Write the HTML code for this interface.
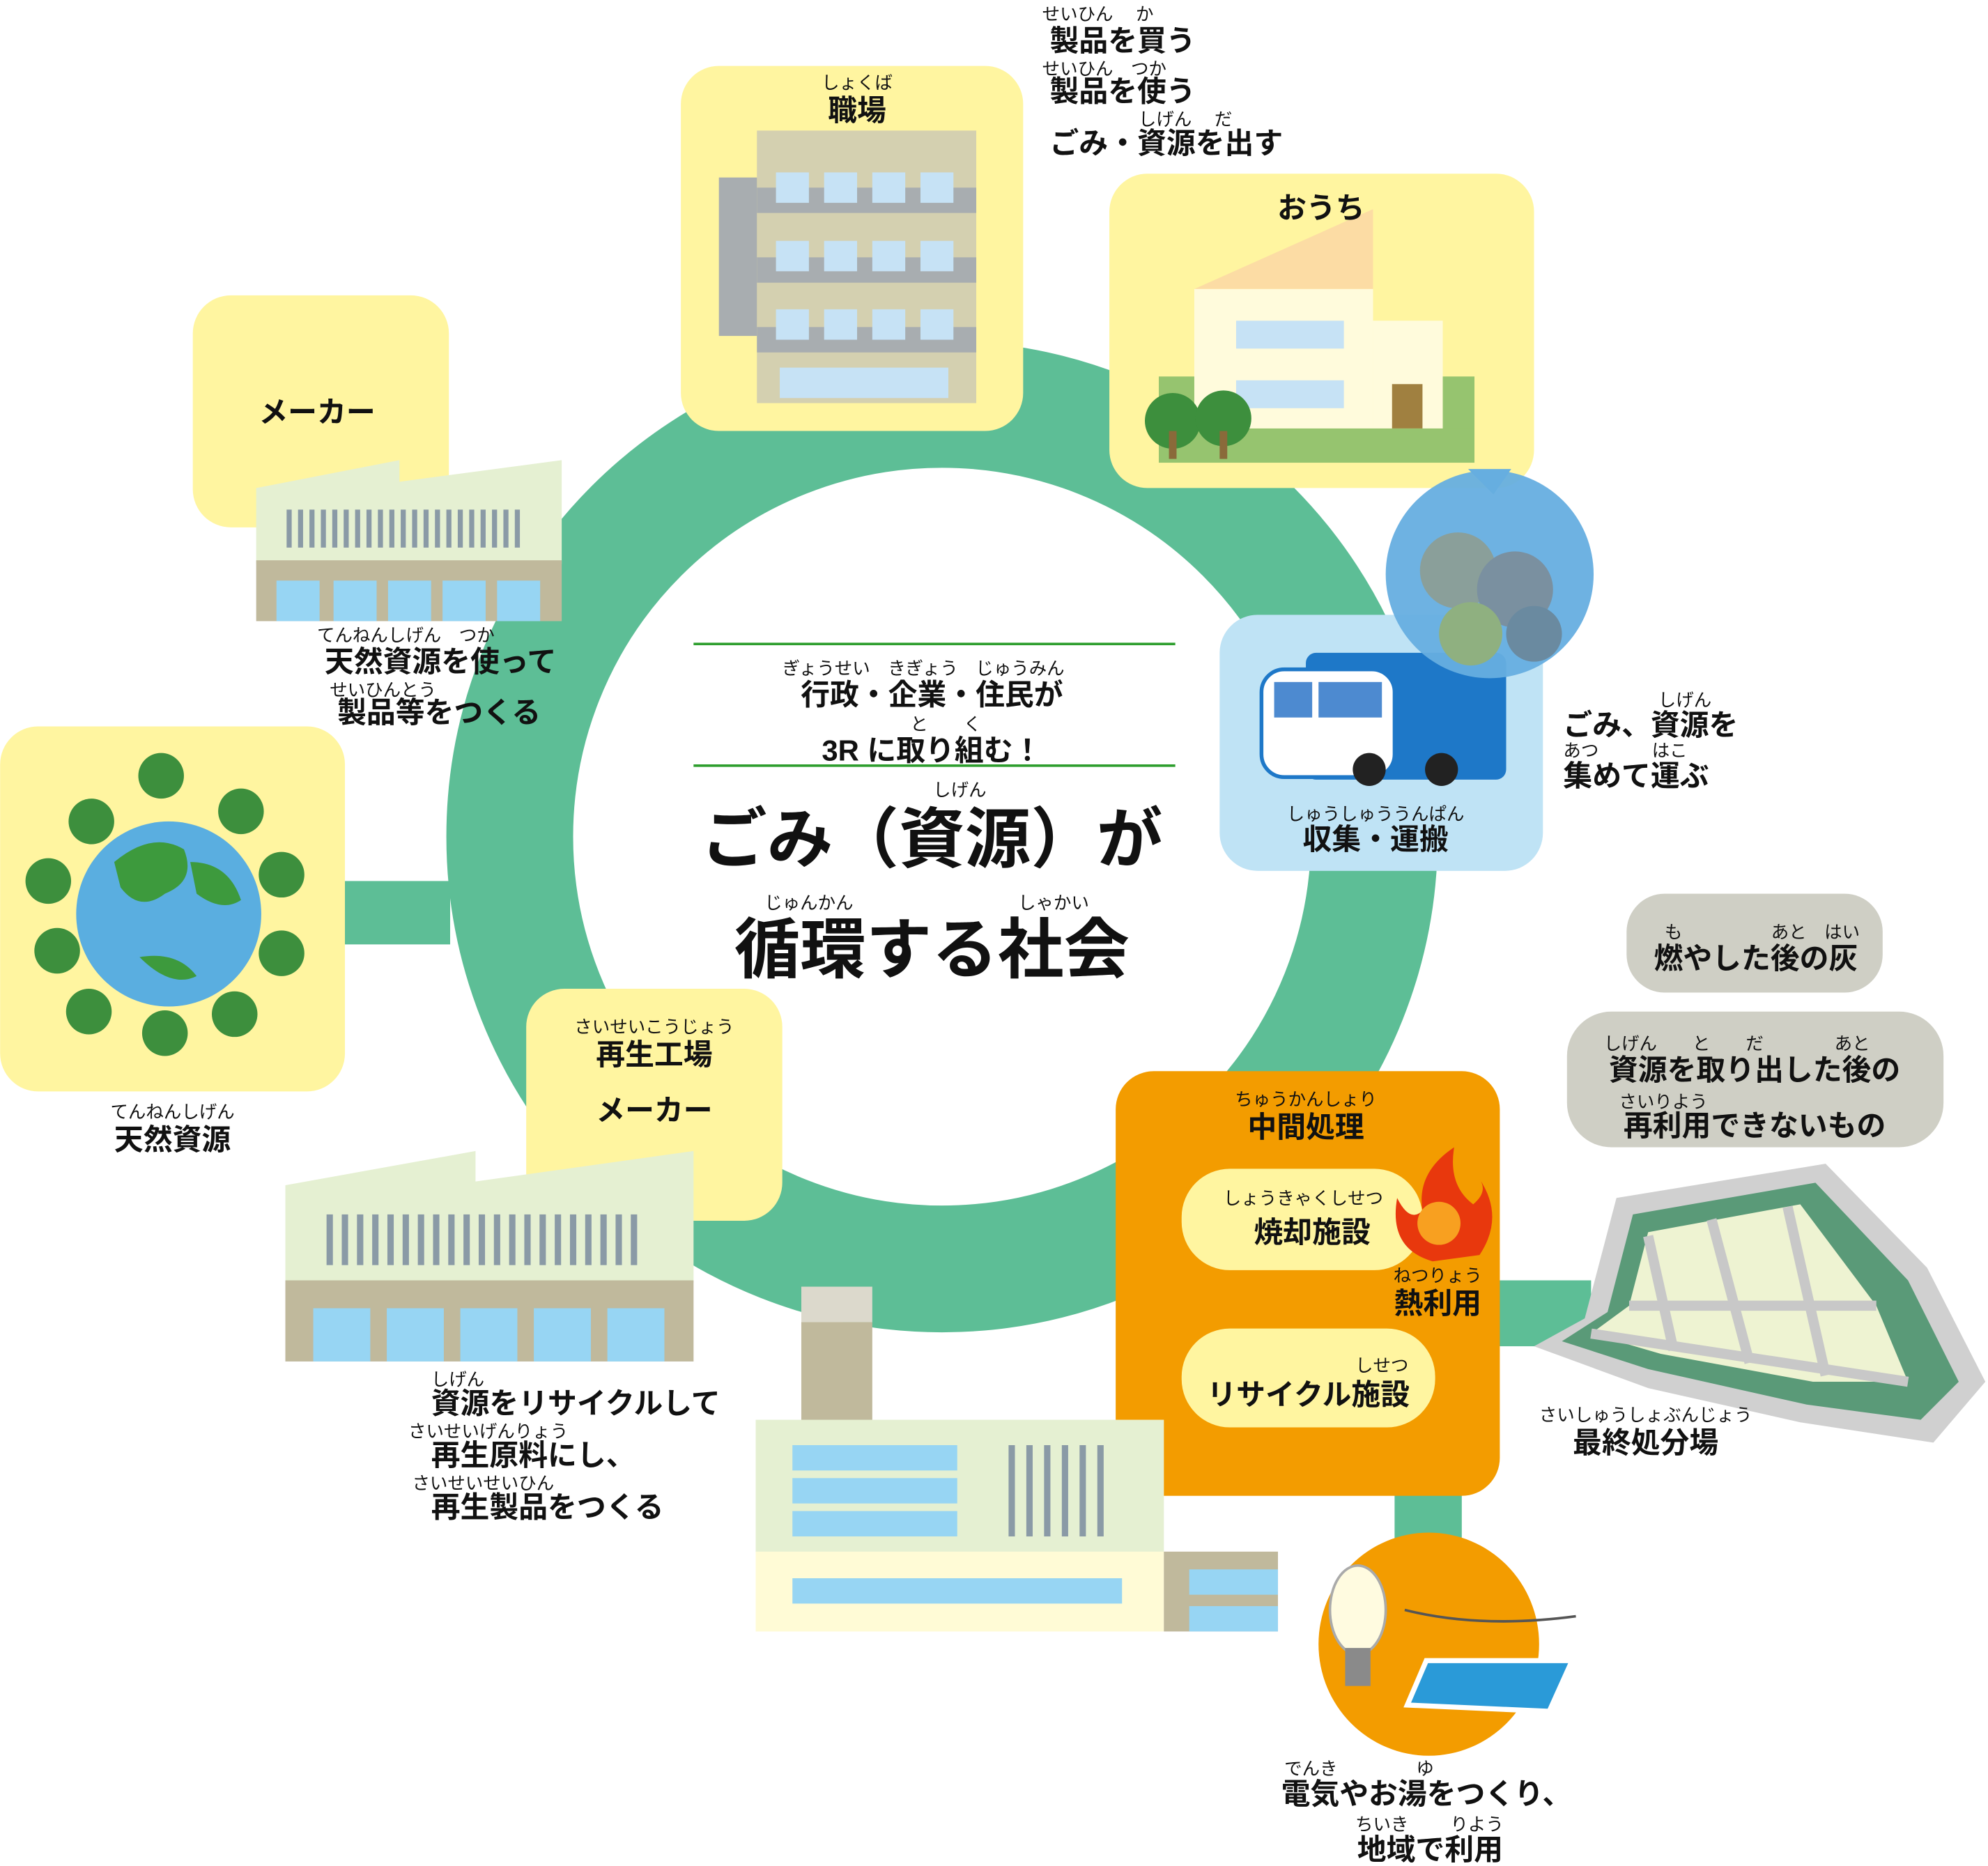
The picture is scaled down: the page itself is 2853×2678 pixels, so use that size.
<!DOCTYPE html>
<html><head><meta charset="utf-8"><style>
html,body{margin:0;padding:0;background:#fff}
svg{display:block}
text{font-family:"Liberation Sans","Noto Sans CJK JP",sans-serif;fill:#111}
.b{font-weight:bold;font-size:23px}
.r{font-size:14px}
</style></head><body>
<svg width="2853" height="2678" viewBox="0 0 1568 1472" xmlns="http://www.w3.org/2000/svg">
<rect x="265" y="695" width="90" height="50" fill="#5dbe96"/>
<rect x="1175" y="1010" width="80" height="52" fill="#5dbe96"/>
<rect x="1100" y="1175" width="53" height="45" fill="#5dbe96"/>
<circle cx="743" cy="660" r="341" fill="none" stroke="#5dbe96" stroke-width="100"/>

<rect x="537" y="52" width="270" height="288" rx="30" fill="#fff5a0"/>
<rect x="597" y="103" width="173" height="215" fill="#d4d0b0"/>
<rect x="567" y="140" width="30" height="125" fill="#a8adb0"/>
<rect x="597" y="148" width="173" height="20" fill="#a8adb0"/>
<rect x="597" y="203" width="173" height="20" fill="#a8adb0"/>
<rect x="597" y="258" width="173" height="20" fill="#a8adb0"/>
<g fill="#c6e2f5">
<rect x="612" y="136" width="26" height="24"/><rect x="650" y="136" width="26" height="24"/><rect x="688" y="136" width="26" height="24"/><rect x="726" y="136" width="26" height="24"/>
<rect x="612" y="190" width="26" height="24"/><rect x="650" y="190" width="26" height="24"/><rect x="688" y="190" width="26" height="24"/><rect x="726" y="190" width="26" height="24"/>
<rect x="612" y="244" width="26" height="24"/><rect x="650" y="244" width="26" height="24"/><rect x="688" y="244" width="26" height="24"/><rect x="726" y="244" width="26" height="24"/>
<rect x="615" y="290" width="133" height="24"/></g>
<text x="676" y="70" class="r" text-anchor="middle">しょくば</text>
<text x="676" y="95" class="b" text-anchor="middle">職場</text>

<text x="822" y="16" class="r">せいひん　 か</text>
<text x="828" y="40" class="b">製品を買う</text>
<text x="822" y="59" class="r">せいひん　つか</text>
<text x="828" y="80" class="b">製品を使う</text>
<text x="898" y="99" class="r">しげん　 だ</text>
<text x="828" y="121" class="b">ごみ・資源を出す</text>

<rect x="875" y="137" width="335" height="248" rx="30" fill="#fff5a0"/>
<polygon points="942,228 1083,165 1083,228" fill="#fcdca4"/>
<rect x="942" y="228" width="141" height="110" fill="#fffbdc"/>
<rect x="1083" y="253" width="55" height="85" fill="#fffbdc"/>
<rect x="975" y="253" width="85" height="22" fill="#c6e2f5"/>
<rect x="975" y="300" width="85" height="22" fill="#c6e2f5"/>
<rect x="1098" y="303" width="24" height="35" fill="#a08040"/>
<rect x="914" y="297" width="28" height="45" fill="#96c46f"/>
<rect x="1138" y="297" width="25" height="45" fill="#96c46f"/>
<rect x="914" y="338" width="249" height="27" fill="#96c46f"/>
<circle cx="925" cy="332" r="22" fill="#3d8f3d"/><circle cx="965" cy="330" r="22" fill="#3d8f3d"/>
<rect x="922" y="340" width="6" height="22" fill="#8a6a3a"/><rect x="962" y="340" width="6" height="22" fill="#8a6a3a"/>
<text x="1042" y="172" class="b" text-anchor="middle">おうち</text>

<rect x="152" y="233" width="202" height="183" rx="30" fill="#fff5a0"/>
<polygon points="202,385 315,363 315,380 443,363 443,445 202,445" fill="#e5f0d2"/>
<rect x="202" y="442" width="241" height="48" fill="#c0b99c"/>
<g fill="#97d5f3"><rect x="218" y="458" width="34" height="32"/><rect x="263" y="458" width="34" height="32"/><rect x="306" y="458" width="34" height="32"/><rect x="349" y="458" width="34" height="32"/><rect x="392" y="458" width="34" height="32"/></g>
<g stroke="#8a9aa6" stroke-width="4"><line x1="228" y1="402" x2="228" y2="432"/><line x1="237" y1="402" x2="237" y2="432"/><line x1="246" y1="402" x2="246" y2="432"/><line x1="255" y1="402" x2="255" y2="432"/><line x1="264" y1="402" x2="264" y2="432"/><line x1="273" y1="402" x2="273" y2="432"/><line x1="282" y1="402" x2="282" y2="432"/><line x1="291" y1="402" x2="291" y2="432"/><line x1="300" y1="402" x2="300" y2="432"/><line x1="309" y1="402" x2="309" y2="432"/><line x1="318" y1="402" x2="318" y2="432"/><line x1="327" y1="402" x2="327" y2="432"/><line x1="336" y1="402" x2="336" y2="432"/><line x1="345" y1="402" x2="345" y2="432"/><line x1="354" y1="402" x2="354" y2="432"/><line x1="363" y1="402" x2="363" y2="432"/><line x1="372" y1="402" x2="372" y2="432"/><line x1="381" y1="402" x2="381" y2="432"/><line x1="390" y1="402" x2="390" y2="432"/><line x1="399" y1="402" x2="399" y2="432"/><line x1="408" y1="402" x2="408" y2="432"/></g>
<text x="250" y="333" class="b" text-anchor="middle">メーカー</text>
<text x="250" y="506" class="r">てんねんしげん　つか</text>
<text x="256" y="530" class="b">天然資源を使って</text>
<text x="260" y="549" class="r">せいひんとう</text>
<text x="266" y="570" class="b">製品等をつくる</text>

<rect x="0" y="573" width="272" height="288" rx="30" fill="#fff5a0"/>
<circle cx="133" cy="721" r="73" fill="#5aaee0"/>
<path d="M90,680 q30,-25 55,-10 q10,25 -15,35 q-20,15 -35,-5 z" fill="#3d9a3d"/>
<path d="M150,680 q30,0 40,30 q-15,10 -35,-5 z" fill="#3d9a3d"/>
<path d="M110,755 q30,-5 45,15 q-20,10 -45,-15 z" fill="#3d9a3d"/>
<g fill="#3d8f3d"><circle cx="127" cy="612" r="18"/><circle cx="190" cy="640" r="18"/><circle cx="222" cy="690" r="18"/><circle cx="222" cy="752" r="18"/><circle cx="185" cy="800" r="18"/><circle cx="130" cy="815" r="18"/><circle cx="70" cy="798" r="18"/><circle cx="45" cy="750" r="18"/><circle cx="38" cy="695" r="18"/><circle cx="72" cy="648" r="18"/></g>
<text x="136" y="882" class="r" text-anchor="middle">てんねんしげん</text>
<text x="136" y="907" class="b" text-anchor="middle">天然資源</text>

<rect x="962" y="485" width="255" height="202" rx="30" fill="#bfe3f5"/>
<rect x="1030" y="515" width="158" height="100" rx="8" fill="#1e78c8"/>
<rect x="995" y="528" width="105" height="85" rx="18" fill="#fff" stroke="#1e78c8" stroke-width="3"/>
<rect x="1005" y="538" width="30" height="28" fill="#4d8ad0"/><rect x="1040" y="538" width="50" height="28" fill="#4d8ad0"/>
<circle cx="1080" cy="607" r="13" fill="#222"/><circle cx="1137" cy="607" r="13" fill="#222"/>
<circle cx="1175" cy="453" r="82" fill="#66aee0" opacity="0.95"/>
<circle cx="1150" cy="450" r="30" fill="#8a9f9a"/><circle cx="1195" cy="465" r="30" fill="#7a90a0"/><circle cx="1160" cy="500" r="25" fill="#8fb080"/><circle cx="1210" cy="500" r="22" fill="#6a8aa0"/>
<polygon points="1158,370 1192,370 1178,390" fill="#66aee0"/>
<text x="1085" y="647" class="r" text-anchor="middle">しゅうしゅううんぱん</text>
<text x="1085" y="670" class="b" text-anchor="middle">収集・運搬</text>
<text x="1308" y="557" class="r">しげん</text>
<text x="1233" y="580" class="b">ごみ、資源を</text>
<text x="1233" y="597" class="r">あつ　　　はこ</text>
<text x="1233" y="620" class="b">集めて運ぶ</text>

<line x1="547" y1="508" x2="927" y2="508" stroke="#2e9e2e" stroke-width="2"/>
<line x1="547" y1="604" x2="927" y2="604" stroke="#2e9e2e" stroke-width="2"/>
<text x="617" y="532" class="r">ぎょうせい　きぎょう　じゅうみん</text>
<text x="735" y="556" class="b" text-anchor="middle">行政・企業・住民が</text>
<text x="718" y="576" class="r">と　　く</text>
<text x="735" y="600" class="b" text-anchor="middle">3R に取り組む！</text>
<text x="757" y="628" class="r" text-anchor="middle">しげん</text>
<text x="735" y="680" font-size="52" font-weight="bold" text-anchor="middle">ごみ（資源）が</text>
<text x="603" y="717" class="r">じゅんかん</text>
<text x="803" y="717" class="r">しゃかい</text>
<text x="735" y="767" font-size="52" font-weight="bold" text-anchor="middle">循環する社会</text>

<rect x="415" y="780" width="202" height="183" rx="30" fill="#fff5a0"/>
<polygon points="225,935 375,908 375,932 547,908 547,1012 225,1012" fill="#e5f0d2"/>
<rect x="225" y="1010" width="322" height="64" fill="#c0b99c"/>
<g fill="#97d5f3"><rect x="247" y="1032" width="45" height="42"/><rect x="305" y="1032" width="45" height="42"/><rect x="363" y="1032" width="45" height="42"/><rect x="421" y="1032" width="45" height="42"/><rect x="479" y="1032" width="45" height="42"/></g>
<g stroke="#8a9aa6" stroke-width="5"><line x1="260" y1="958" x2="260" y2="998"/><line x1="272" y1="958" x2="272" y2="998"/><line x1="284" y1="958" x2="284" y2="998"/><line x1="296" y1="958" x2="296" y2="998"/><line x1="308" y1="958" x2="308" y2="998"/><line x1="320" y1="958" x2="320" y2="998"/><line x1="332" y1="958" x2="332" y2="998"/><line x1="344" y1="958" x2="344" y2="998"/><line x1="356" y1="958" x2="356" y2="998"/><line x1="368" y1="958" x2="368" y2="998"/><line x1="380" y1="958" x2="380" y2="998"/><line x1="392" y1="958" x2="392" y2="998"/><line x1="404" y1="958" x2="404" y2="998"/><line x1="416" y1="958" x2="416" y2="998"/><line x1="428" y1="958" x2="428" y2="998"/><line x1="440" y1="958" x2="440" y2="998"/><line x1="452" y1="958" x2="452" y2="998"/><line x1="464" y1="958" x2="464" y2="998"/><line x1="476" y1="958" x2="476" y2="998"/><line x1="488" y1="958" x2="488" y2="998"/><line x1="500" y1="958" x2="500" y2="998"/></g>
<text x="516" y="815" class="r" text-anchor="middle">さいせいこうじょう</text>
<text x="516" y="840" class="b" text-anchor="middle">再生工場</text>
<text x="516" y="884" class="b" text-anchor="middle">メーカー</text>
<text x="340" y="1093" class="r">しげん</text>
<text x="340" y="1115" class="b">資源をリサイクルして</text>
<text x="322" y="1134" class="r">さいせいげんりょう</text>
<text x="340" y="1156" class="b">再生原料にし、</text>
<text x="325" y="1175" class="r">さいせいせいひん</text>
<text x="340" y="1197" class="b">再生製品をつくる</text>

<rect x="632" y="1015" width="56" height="28" fill="#dcd9cc"/>
<rect x="632" y="1043" width="56" height="80" fill="#c0b99c"/>
<rect x="596" y="1120" width="322" height="105" fill="#e5f0d2"/>
<rect x="596" y="1224" width="322" height="63" fill="#fffbd6"/>
<rect x="918" y="1224" width="90" height="63" fill="#c0b99c"/>
<g fill="#97d5f3"><rect x="625" y="1140" width="130" height="20"/><rect x="625" y="1166" width="130" height="20"/><rect x="625" y="1192" width="130" height="20"/><rect x="625" y="1245" width="260" height="20"/><rect x="938" y="1238" width="70" height="20"/><rect x="938" y="1267" width="70" height="20"/></g>
<g stroke="#8a9aa6" stroke-width="5"><line x1="798" y1="1140" x2="798" y2="1212"/><line x1="812" y1="1140" x2="812" y2="1212"/><line x1="826" y1="1140" x2="826" y2="1212"/><line x1="840" y1="1140" x2="840" y2="1212"/><line x1="854" y1="1140" x2="854" y2="1212"/><line x1="868" y1="1140" x2="868" y2="1212"/></g>

<path d="M910,845 H1153 a30,30 0 0 1 30,30 V1150 a30,30 0 0 1 -30,30 H918 V1120 H880 V875 a30,30 0 0 1 30,-30 z" fill="#f39c00"/>
<text x="1030" y="872" class="r" text-anchor="middle">ちゅうかんしょり</text>
<text x="1030" y="897" class="b" text-anchor="middle">中間処理</text>
<rect x="932" y="922" width="190" height="80" rx="38" fill="#fff5a0"/>
<text x="1028" y="950" class="r" text-anchor="middle">しょうきゃくしせつ</text>
<text x="1035" y="980" class="b" text-anchor="middle">焼却施設</text>
<path d="M1130,995 q-35,-10 -28,-50 q10,20 20,10 q-5,-30 25,-50 q-5,30 15,45 q12,-10 5,-20 q20,30 0,60 z" fill="#e8380d"/>
<circle cx="1135" cy="965" r="17" fill="#f8a020"/>
<text x="1134" y="1011" class="r" text-anchor="middle">ねつりょう</text>
<text x="1134" y="1036" class="b" text-anchor="middle">熱利用</text>
<rect x="932" y="1048" width="200" height="78" rx="38" fill="#fff5a0"/>
<text x="1090" y="1082" class="r" text-anchor="middle">しせつ</text>
<text x="1032" y="1108" class="b" text-anchor="middle">リサイクル施設</text>

<ellipse cx="1127" cy="1297" rx="87" ry="88" fill="#f39c00"/>
<ellipse cx="1071" cy="1270" rx="22" ry="35" fill="#fffbe0" stroke="#aaa" stroke-width="2"/>
<rect x="1061" y="1300" width="20" height="30" fill="#8a8a8a"/>
<path d="M1108,1270 q60,15 135,5" stroke="#555" fill="none" stroke-width="2"/>
<polygon points="1125,1310 1240,1310 1222,1350 1110,1345" fill="#2a9ad8" stroke="#fff" stroke-width="4"/>
<text x="1034" y="1400" class="r" text-anchor="middle">でんき</text>
<text x="1124" y="1400" class="r" text-anchor="middle">ゆ</text>
<text x="1125" y="1423" class="b" text-anchor="middle">電気やお湯をつくり、</text>
<text x="1090" y="1444" class="r" text-anchor="middle">ちいき</text>
<text x="1165" y="1444" class="r" text-anchor="middle">りよう</text>
<text x="1128" y="1467" class="b" text-anchor="middle">地域で利用</text>

<rect x="1283" y="705" width="202" height="78" rx="30" fill="#cfcfc5"/>
<text x="1313" y="740" class="r">も　　　　　あと　はい</text>
<text x="1385" y="764" class="b" text-anchor="middle">燃やした後の灰</text>
<rect x="1236" y="798" width="297" height="107" rx="35" fill="#cfcfc5"/>
<text x="1265" y="828" class="r">しげん　　と　　だ　　　　あと</text>
<text x="1384" y="852" class="b" text-anchor="middle">資源を取り出した後の</text>
<text x="1277" y="874" class="r">さいりよう</text>
<text x="1384" y="896" class="b" text-anchor="middle">再利用できないもの</text>

<polygon points="1275,945 1440,918 1520,1000 1566,1090 1525,1138 1420,1122 1300,1095 1210,1062 1250,1040" fill="#d0d0d0"/>
<polygon points="1288,958 1432,933 1505,1010 1545,1090 1515,1120 1425,1108 1300,1080 1232,1058 1268,1035" fill="#5a9a78"/>
<polygon points="1300,972 1420,950 1480,1030 1505,1090 1430,1090 1310,1068 1255,1052 1285,1030" fill="#eef3d2"/>
<g stroke="#c8c8c8" stroke-width="8" fill="none"><path d="M1255,1052 L1505,1090"/><path d="M1300,975 L1320,1065"/><path d="M1350,962 L1380,1075"/><path d="M1410,952 L1440,1085"/><path d="M1285,1030 L1480,1030"/></g>
<text x="1298" y="1121" class="r" text-anchor="middle">さいしゅうしょぶんじょう</text>
<text x="1298" y="1146" class="b" text-anchor="middle">最終処分場</text>
</svg>
</body></html>
